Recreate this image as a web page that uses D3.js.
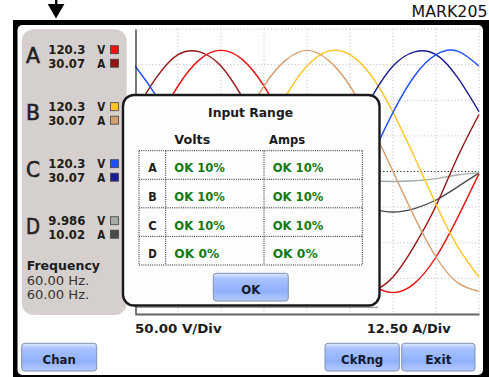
<!DOCTYPE html>
<html><head><meta charset="utf-8">
<script src="https://cdn.jsdelivr.net/npm/d3@7"></script>
<style>
html,body{margin:0;padding:0;background:#fff;}
svg{display:block;}
text{font-family:"DejaVu Sans",sans-serif;}
</style></head><body>
<svg id="c" width="489" height="377"></svg>
<script>
// ---------- data ----------
const channels = ["A", "B", "C", "D"];
const voltsRms = ["120.3", "120.3", "120.3", "9.986"];
const ampsRms = ["30.07", "30.07", "30.07", "10.02"];
const frequencyLabel = "Frequency";
const frequencies = ["60.00 Hz.", "60.00 Hz."];
const voltsPerDiv = 50;
const ampsPerDiv = 12.5;
const voltsPerDivLabel = "50.00 V/Div";
const ampsPerDivLabel = "12.50 A/Div";
const dialogTitle = "Input Range";
const rangeHeaders = ["Volts", "Amps"];
const rangeVolts = ["OK 10%", "OK 10%", "OK 10%", "OK 0%"];
const rangeAmps = ["OK 10%", "OK 10%", "OK 10%", "OK 0%"];
const buttonLabels = ["Chan", "CkRng", "Exit"];
const title = "MARK205";

// time axis in divisions (8 div = one 60 Hz cycle)
const sampleDiv = [0, 0.5, 1, 1.5, 2, 2.5, 3, 3.5, 4, 4.5, 5, 5.5, 6, 6.5, 7, 7.5, 8];
// volts (50 V/div), amps (12.5 A/div)
const voltsA = [0, 65, 120, 157, 170, 157, 120, 65, 0, -65, -120, -157, -170, -157, -120, -65, -3];
const ampsA  = [21, 33, 41, 42, 37, 26, 12, -5, -21, -33, -41, -42, -37, -26, -12, 5, 20];
const voltsB = [-148, -169, -164, -134, -83, -20, 46, 105, 148, 169, 164, 134, 83, 20, -46, -105, -148];
const ampsB  = [-42.5, -39, -30, -16, 0, 16, 30, 39, 42.5, 39, 30, 16, 0, -16, -30, -39, -42];
const voltsC = [148, 105, 46, -20, -83, -134, -164, -169, -148, -105, -46, 20, 83, 134, 164, 169, 148];
const ampsC  = [21, 5, -11.5, -26, -37, -42, -41, -33, -21, -5, 11.5, 26, 37, 42, 41, 33, 21];
const voltsD = [0, 5, 10, 13, 14, 13, 10, 5, 0, -5, -10, -13, -14, -13, -10, -5, -2];
const ampsD  = [0, 5.4, 10, 13, 14.2, 13, 10, 5.4, 0, -5.4, -10, -13, -14.2, -13, -10, -5.4, -0.5];

// ---------- styles ----------
const voltColors = ["#ee1111", "#ffc425", "#1f4fff", "#a2aea4"];
const ampColors  = ["#961414", "#d4a070", "#1a1a92", "#4a4a4a"];

const svg = d3.select("#c");
const defs = svg.append("defs");
const g1 = defs.append("linearGradient").attr("id","btn").attr("x1",0).attr("y1",0).attr("x2",0).attr("y2",1);
[["0%","#e2ecff"],["18%","#a9c3ff"],["65%","#8fb0fa"],["100%","#b7ccff"]].forEach(s=>g1.append("stop").attr("offset",s[0]).attr("stop-color",s[1]));
defs.append("clipPath").attr("id","plotclip").append("rect").attr("x",135).attr("y",28).attr("width",345).attr("height",287);

function txt(sel, s, x, y, opts) {
  const t = sel.append("text").attr("x", x).attr("y", y).text(s)
    .attr("font-size", opts.size || 12.5)
    .attr("font-weight", opts.weight || "bold")
    .attr("fill", opts.fill || "#1b1b1b")
    .attr("text-anchor", opts.anchor || "start");
  if (opts.len) t.attr("textLength", opts.len).attr("lengthAdjust", "spacingAndGlyphs");
  if (opts.family) t.attr("font-family", opts.family);
  return t;
}

// arrow + title
svg.append("rect").attr("x",55).attr("y",0).attr("width",2.4).attr("height",5).attr("fill","#000");
svg.append("path").attr("d","M47.7,4 L64.4,4 L56,18.5 Z").attr("fill","#000");
txt(svg, title, 487.5, 17.3, {size:15.8, weight:"normal", family:"'Liberation Sans',Arial,sans-serif", anchor:"end", fill:"#111"});

// frame
svg.append("rect").attr("x",13).attr("y",20).attr("width",476).attr("height",357).attr("fill","#000");
svg.append("rect").attr("x",17.5).attr("y",25).attr("width",465.5).attr("height",350).attr("rx",5).attr("fill","#fff");

// left panel
svg.append("rect").attr("x",21.7).attr("y",29.3).attr("width",105).attr("height",285.7).attr("rx",12).attr("fill","#d5cfcd");

const rowBase = [54, 111, 168, 225];
channels.forEach((ch, i) => {
  const y = rowBase[i];
  txt(svg, ch, 26, y + 8.5, {size:21, weight:"normal", fill:"#222", len:14}).attr("stroke","#222").attr("stroke-width",0.6);
  txt(svg, voltsRms[i], 48.3, y, {size:13, len:37});
  txt(svg, ampsRms[i], 48.3, y + 13.5, {size:13, len:36.7});
  txt(svg, "V", 97.3, y, {size:13, len:8});
  txt(svg, "A", 97.3, y + 13.5, {size:13, len:8});
  svg.append("rect").attr("x",110.5).attr("y",y-8.3).attr("width",8).attr("height",8)
    .attr("fill",voltColors[i]).attr("stroke","#444").attr("stroke-width",0.8);
  svg.append("rect").attr("x",110.5).attr("y",y+5.2).attr("width",8).attr("height",8)
    .attr("fill",ampColors[i]).attr("stroke","#444").attr("stroke-width",0.8);
});
txt(svg, frequencyLabel, 26.7, 269.5, {size:13, len:73.3});
frequencies.forEach((f, i) => txt(svg, f, 26.7, 285 + i*14, {size:13, weight:"normal", fill:"#333", len:62.6}));

// ---------- plot ----------
const x = d3.scaleLinear().domain([0, 8]).range([135, 479]);
const yV = d3.scaleLinear().domain([-4*voltsPerDiv, 4*voltsPerDiv]).range([314, 29]);
const yA = d3.scaleLinear().domain([-4*ampsPerDiv, 4*ampsPerDiv]).range([314, 29]);

const grid = svg.append("g");
grid.selectAll("line.h").data(d3.range(-4, 5).map(k => k*voltsPerDiv)).enter().append("line")
  .attr("x1", x(0)).attr("x2", x(8)).attr("y1", d => yV(d)).attr("y2", d => yV(d))
  .attr("stroke", d => d === 0 ? "#222" : "#c4c4c4").attr("stroke-width", 1)
  .attr("stroke-dasharray", "1.2,2.2");
grid.selectAll("line.v").data(x.ticks(8).filter(d => d > 0)).enter().append("line")
  .attr("y1", yV(200)).attr("y2", yV(-200)).attr("x1", d => x(d)).attr("x2", d => x(d))
  .attr("stroke", "#c4c4c4").attr("stroke-dasharray", "1.2,2.2");

const waves = svg.append("g").attr("clip-path","url(#plotclip)");
const series = [
  {v: ampsD, s: yA, c: ampColors[3]}, {v: voltsD, s: yV, c: voltColors[3]},
  {v: ampsA, s: yA, c: ampColors[0]}, {v: voltsA, s: yV, c: voltColors[0]},
  {v: ampsB, s: yA, c: ampColors[1]}, {v: voltsB, s: yV, c: voltColors[1]},
  {v: ampsC, s: yA, c: ampColors[2]}, {v: voltsC, s: yV, c: voltColors[2]}
];
series.forEach(sr => {
  const line = d3.line().x((d, i) => x(sampleDiv[i])).y(d => sr.s(d)).curve(d3.curveNatural);
  waves.append("path").attr("d", line(sr.v)).attr("fill","none").attr("stroke", sr.c).attr("stroke-width", 1.4);
});

// axes
const yAxis = d3.axisLeft(yV).tickValues([]).tickSizeOuter(0);
svg.append("g").attr("transform","translate(135.5,0)").call(yAxis).select(".domain").attr("stroke","#222").attr("stroke-width",1.2);
const xAxis = d3.axisBottom(x).tickValues([]).tickSizeOuter(0);
svg.append("g").attr("transform","translate(0,314)").call(xAxis).select(".domain").attr("stroke","#666").attr("stroke-width",1.8);
svg.append("line").attr("x1",135).attr("x2",378).attr("y1",307.3).attr("y2",307.3).attr("stroke","#666").attr("stroke-width",0.8);

txt(svg, voltsPerDivLabel, 135, 332.5, {size:13, len:86.7});
txt(svg, ampsPerDivLabel, 366.7, 332.5, {size:13, len:84});

// ---------- dialog ----------
const dlg = svg.append("g");
dlg.append("rect").attr("x",123).attr("y",95).attr("width",256.5).attr("height",210.5).attr("rx",11)
  .attr("fill","#fdfdfd").attr("stroke","#1a1a1a").attr("stroke-width",2.4);
txt(dlg, dialogTitle, 250.6, 117, {size:13, len:85, anchor:"middle"});
txt(dlg, rangeHeaders[0], 174.3, 144, {size:13, len:36});
txt(dlg, rangeHeaders[1], 269, 144, {size:13, len:36});

const colX = [139, 165.7, 264, 362.3];
const rowY = [150.7, 179.3, 207.8, 236.4, 265];
rowY.forEach(yy => dlg.append("line").attr("x1",colX[0]).attr("x2",colX[3]).attr("y1",yy).attr("y2",yy)
  .attr("stroke","#222").attr("stroke-dasharray","1,1.2"));
colX.forEach(xx => dlg.append("line").attr("x1",xx).attr("x2",xx).attr("y1",rowY[0]).attr("y2",rowY[4])
  .attr("stroke","#222").attr("stroke-dasharray","1,1.2"));
channels.forEach((ch, i) => {
  const yb = rowY[i] + 21.7;
  txt(dlg, ch, 152.5, yb, {size:13, anchor:"middle", len:8.5});
  txt(dlg, rangeVolts[i], 174.3, yb, {size:13, fill:"#137a13", len: rangeVolts[i].length === 6 ? 50.7 : 45});
  txt(dlg, rangeAmps[i], 272.7, yb, {size:13, fill:"#137a13", len: rangeAmps[i].length === 6 ? 50.7 : 45});
});

function button(sel, x0, x1, y0, y1, label, len) {
  sel.append("rect").attr("x",x0).attr("y",y0).attr("width",x1-x0).attr("height",y1-y0).attr("rx",3)
    .attr("fill","url(#btn)").attr("stroke","#8090b0").attr("stroke-width",1);
  txt(sel, label, (x0+x1)/2, y1 - 6.8, {size:13, anchor:"middle", fill:"#141a2a", len:len});
}
button(dlg, 213.3, 288.3, 273.3, 301, "OK", 19);
button(svg, 21.7, 96.7, 343.3, 371, buttonLabels[0], 33.3);
button(svg, 325, 399.3, 343.3, 371, buttonLabels[1], 42.3);
button(svg, 401.7, 475, 343.3, 371, buttonLabels[2], 26.3);
</script>
</body></html>
